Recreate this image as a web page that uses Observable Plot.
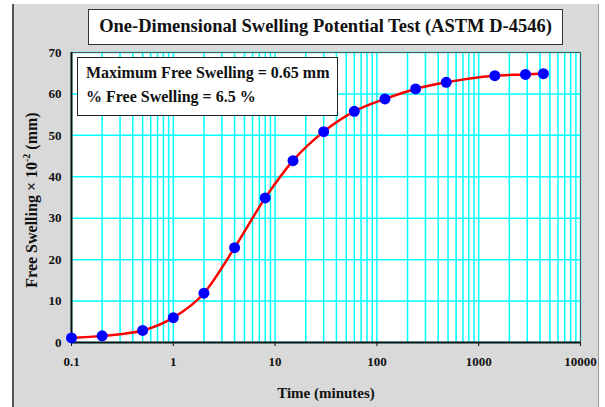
<!DOCTYPE html>
<html>
<head>
<meta charset="utf-8">
<script src="https://cdn.jsdelivr.net/npm/d3@7"></script>
<script src="https://cdn.jsdelivr.net/npm/@observablehq/plot@0.6"></script>
<style>
  html, body { margin: 0; padding: 0; background: #ffffff; }
  #wrap { position: relative; width: 605px; height: 407px; overflow: hidden; font-family: "Liberation Serif", "Times New Roman", serif; font-weight: bold; color: #111; }
  #panel { position: absolute; left: 12px; top: 4px; width: 587px; height: 403px; background: #d9d9d9; border-left: 2px solid #555; border-right: 1px solid #9a9a9a; box-sizing: border-box; }
  #chart { position: absolute; left: 0; top: 0; }
  #title { position: absolute; left: 88px; top: 9px; width: 475px; height: 36px; box-sizing: border-box; background: #fff; border: 1.5px solid #333; text-align: center; font-size: 18.5px; line-height: 33px; white-space: nowrap; }
  #note { position: absolute; left: 77px; top: 57px; width: 261px; height: 59px; box-sizing: border-box; background: #fff; border: 1.5px solid #222; padding: 3px 0 0 8px; font-size: 16px; line-height: 24px; white-space: nowrap; }
  #ylab { position: absolute; left: 32px; top: 200px; transform: translate(-50%, -50%) rotate(-90deg); font-size: 16px; white-space: nowrap; }
  #ylab sup { font-size: 10px; vertical-align: 7px; line-height: 0; }
  #xlab { position: absolute; left: 326px; top: 393px; transform: translate(-50%, -50%); font-size: 15px; white-space: nowrap; }
</style>
</head>
<body>
<div id="wrap">
  <div id="panel"></div>
  <div id="chart"></div>
  <div id="title">One-Dimensional Swelling Potential Test (ASTM D-4546)</div>
  <div id="note">Maximum Free Swelling = 0.65 mm<br>% Free Swelling = 6.5 %</div>
  <div id="ylab">Free Swelling × 10<sup>-2</sup> (mm)</div>
  <div id="xlab">Time (minutes)</div>
</div>
<script>
// Data
const timeMinutes = [0.1, 0.2, 0.5, 1, 2, 4, 8, 15, 30, 60, 120, 240, 480, 1440, 2880, 4320];
const swelling = [1.1, 1.6, 2.9, 6.0, 11.9, 22.9, 34.9, 43.9, 50.9, 55.8, 58.8, 61.2, 62.8, 64.4, 64.7, 64.9];
const xTicks = [0.1, 1, 10, 100, 1000, 10000];
const yTicks = [0, 10, 20, 30, 40, 50, 60, 70];
const xDomain = [0.1, 10000];
const yDomain = [0, 70];

const data = timeMinutes.map((t, i) => ({t, s: swelling[i]}));
// minor log gridlines (1..9 per decade) from a log scale over the axis domain
const xGrid = d3.scaleLog().domain(xDomain).ticks();

const chart = Plot.plot({
  width: 605,
  height: 407,
  marginLeft: 71,
  marginRight: 25,
  marginTop: 52,
  marginBottom: 65,
  style: {background: "transparent", fontFamily: "'Liberation Serif', 'Times New Roman', serif", fontWeight: "bold", fontSize: "13px", color: "#111"},
  x: {type: "log", domain: xDomain},
  y: {domain: yDomain},
  marks: [
    Plot.frame({fill: "white", stroke: null}),
    Plot.gridX(xGrid, {stroke: "#00ffff", strokeOpacity: 1, strokeWidth: 1.5}),
    Plot.gridY(yTicks, {stroke: "#00ffff", strokeOpacity: 1, strokeWidth: 1.5}),
    Plot.frame({stroke: "#555", strokeWidth: 1}),
    Plot.ruleX([xDomain[0]], {stroke: "#111", strokeWidth: 2}),
    Plot.ruleY([yDomain[0]], {stroke: "#111", strokeWidth: 2}),
    Plot.axisX(xTicks, {tickFormat: d => String(d), tickSize: 4, tickPadding: 10, label: null, fontSize: 13, fontWeight: "bold"}),
    Plot.axisY(yTicks, {tickSize: 0, tickPadding: 10, label: null, fontSize: 13, fontWeight: "bold"}),
    Plot.line(data, {x: "t", y: "s", stroke: "#ff0000", strokeWidth: 2.5, curve: "monotone-x"}),
    Plot.dot(data, {x: "t", y: "s", r: 5.5, fill: "#0000ff", stroke: null})
  ]
});
document.getElementById("chart").appendChild(chart);
</script>
</body>
</html>
